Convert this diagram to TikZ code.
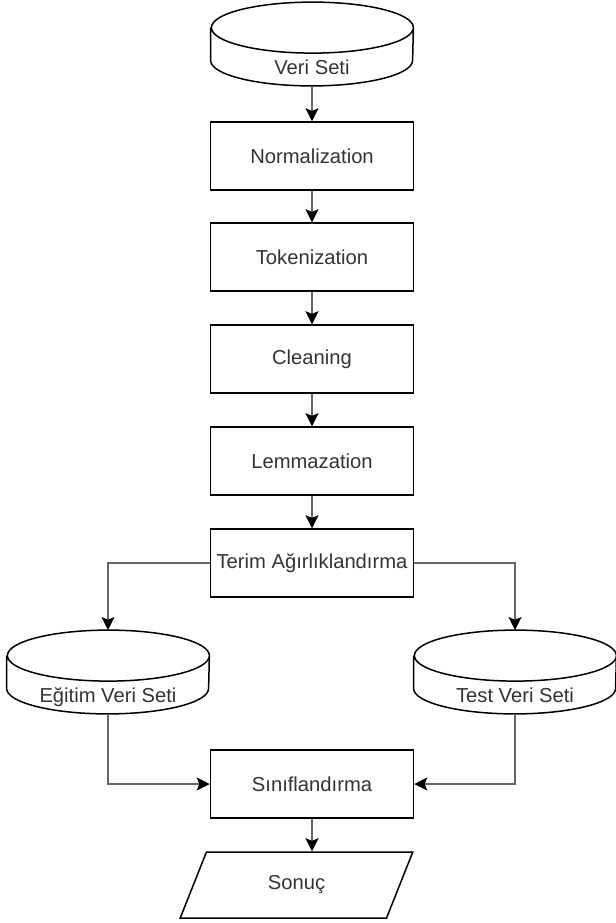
\documentclass[tikz,border=0pt]{standalone}
\usepackage{fontspec}
\setmainfont{Liberation Sans}
\usetikzlibrary{arrows.meta, positioning, shapes.geometric}

\definecolor{txtgray}{HTML}{333333}

% cylinder outline round a named node
\newcommand{\dbshape}[1]{%
  \draw[shapeline] ([yshift=-12.75pt]#1.north west) -- ([yshift=12.75pt]#1.south west)
    arc[start angle=180, end angle=360, x radius=50.5pt, y radius=12.75pt]
    -- ([yshift=-12.75pt]#1.north east)
    arc[start angle=0, end angle=360, x radius=50.5pt, y radius=12.75pt];%
}

\begin{document}
\begin{tikzpicture}[
    x=0.5pt, y=-0.5pt,
    every node/.style={font=\fontsize{10.1}{12}\selectfont, text=txtgray},
    shapeline/.style={draw=black, line width=0.75pt},
    stepbox/.style={shapeline, rectangle, minimum width=101.5pt, minimum height=34pt, inner sep=0pt},
    dbase/.style={rectangle, minimum width=101pt, inner xsep=0pt, inner ysep=0pt,
      text height=36pt, text depth=5.5pt},
    outbox/.style={shapeline, trapezium, trapezium left angle=65.6, trapezium right angle=114.4,
      trapezium stretches=true, minimum width=116.5pt, minimum height=33pt, inner sep=0pt},
    link/.style={draw=black!60, line width=0.8pt,
      -{Stealth[length=6.5pt, width=6.5pt, inset=1.3pt, color=black]}},
  ]
  \useasboundingbox (0,0) rectangle (616,923);

  \node[dbase] (veri) at (312,44) {Veri Seti};
  \dbshape{veri}

  \node[stepbox] (norm) at (312,156) {Normalization};
  \node[stepbox] (token) at (312,257) {Tokenization};
  \node[stepbox] (clean) at (312,359) {Cleaning};
  \node[stepbox] (lemma) at (312,461) {Lemmazation};
  \node[stepbox] (terim) at (312,563) {Terim Ağırlıklandırma};

  \node[dbase] (egitim) at (108,672) {Eğitim Veri Seti};
  \dbshape{egitim}
  \node[dbase] (test) at (515,672) {Test Veri Seti};
  \dbshape{test}

  \node[stepbox] (sinif) at (312,784) {Sınıflandırma};
  \node[outbox] (sonuc) at (296.5,885) {Sonuç};

  \draw[link] (veri) -- (norm);
  \draw[link] (norm) -- (token);
  \draw[link] (token) -- (clean);
  \draw[link] (clean) -- (lemma);
  \draw[link] (lemma) -- (terim);
  \draw[link] (terim.west) -| (egitim.north);
  \draw[link] (terim.east) -| (test.north);
  \draw[link] (egitim.south) |- (sinif.west);
  \draw[link] (test.south) |- (sinif.east);
  \draw[link] (sinif) -- (sinif |- sonuc.north);
\end{tikzpicture}
\end{document}
